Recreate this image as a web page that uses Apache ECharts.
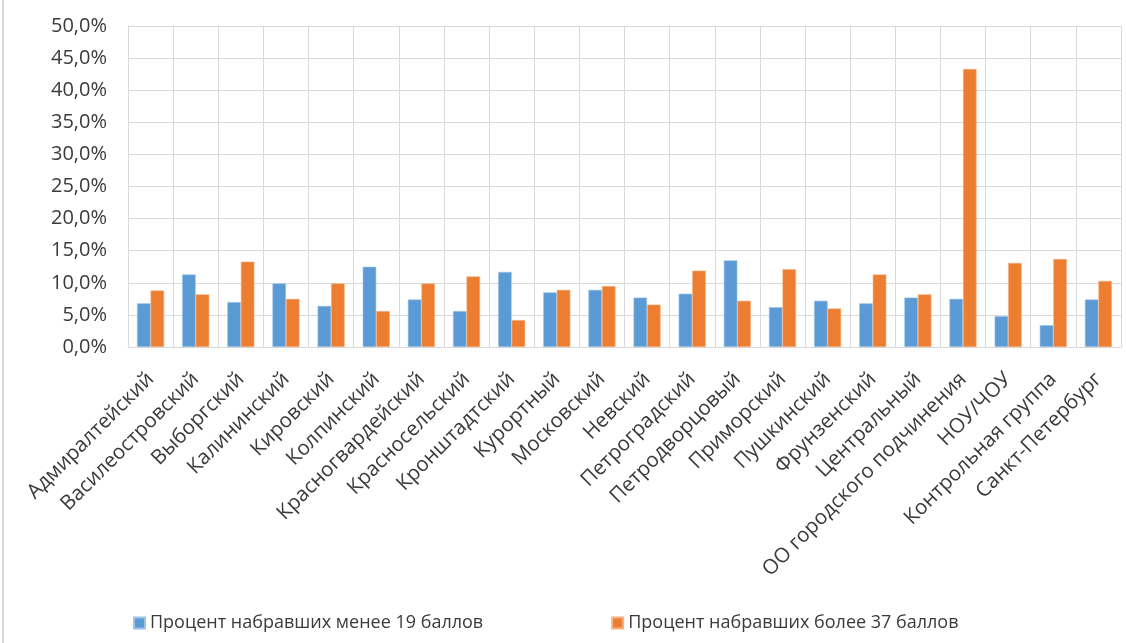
<!DOCTYPE html>
<html>
<head>
<meta charset="utf-8">
<script src="https://cdn.jsdelivr.net/npm/echarts@6/dist/echarts.min.js"></script>
<style>
html,body{margin:0;padding:0;background:#fff;}
#chart{width:1126px;height:643px;}
</style>
</head>
<body>
<div id="chart"></div>
<script>
const categories = ['Адмиралтейский','Василеостровский','Выборгский','Калининский','Кировский','Колпинский','Красногвардейский','Красносельский','Кронштадтский','Курортный','Московский','Невский','Петроградский','Петродворцовый','Приморский','Пушкинский','Фрунзенский','Центральный','ОО городского подчинения','НОУ/ЧОУ','Контрольная группа','Санкт-Петербург'];
const seriesNames = ['Процент набравших менее 19 баллов','Процент набравших более 37 баллов'];
const below19 = [6.8,11.3,7.0,9.9,6.4,12.5,7.4,5.6,11.7,8.5,8.9,7.7,8.3,13.5,6.2,7.2,6.8,7.7,7.5,4.8,3.4,7.4];
const above37 = [8.8,8.2,13.3,7.5,9.9,5.6,9.9,11.0,4.2,8.9,9.5,6.6,11.9,7.2,12.1,6.0,11.3,8.2,43.3,13.1,13.7,10.3];
const yTicks = {min:0, max:50, interval:5};

const font = '"Open Sans", sans-serif';
const textColor = '#3a3a3a';
const chart = echarts.init(document.getElementById('chart'), null, {renderer:'canvas'});
chart.setOption({
  animation:false,
  backgroundColor:'#fff',
  graphic:[{type:'rect', left:2, top:0, shape:{width:2, height:643}, style:{fill:'#d9d9d9'}}],
  legend:{
    bottom:6, left:128, itemWidth:11, itemHeight:11, itemGap:128,
    icon:'rect',
    textStyle:{fontFamily:font, fontSize:18, color:textColor}
  },
  grid:{left:128, right:5, top:26, bottom:296, containLabel:false},
  xAxis:{
    type:'category', data:categories,
    axisLine:{lineStyle:{color:'#d9d9d9', width:1}},
    axisTick:{show:false},
    splitLine:{show:true, lineStyle:{color:'#d9d9d9', width:1}},
    axisLabel:{rotate:45, interval:0, margin:29, fontFamily:font, fontSize:20.5, color:textColor}
  },
  yAxis:{
    type:'value', min:yTicks.min, max:yTicks.max, interval:yTicks.interval,
    axisLine:{show:true, lineStyle:{color:'#d9d9d9'}},
    axisTick:{show:false},
    splitLine:{lineStyle:{color:'#d9d9d9', width:1}},
    axisLabel:{margin:21, fontFamily:font, fontSize:20, color:textColor,
      formatter:v=>v.toFixed(1).replace('.',',')+'%'}
  },
  series:[
    {name:seriesNames[0], type:'bar', data:below19, barGap:'0%', barCategoryGap:'40%',
     itemStyle:{color:'#5b9bd5', borderColor:'#9dc3e6', borderWidth:0.6}},
    {name:seriesNames[1], type:'bar', data:above37, barGap:'0%', barCategoryGap:'40%',
     itemStyle:{color:'#ed7d31', borderColor:'#f4b183', borderWidth:0.6}}
  ]
});
</script>
</body>
</html>
